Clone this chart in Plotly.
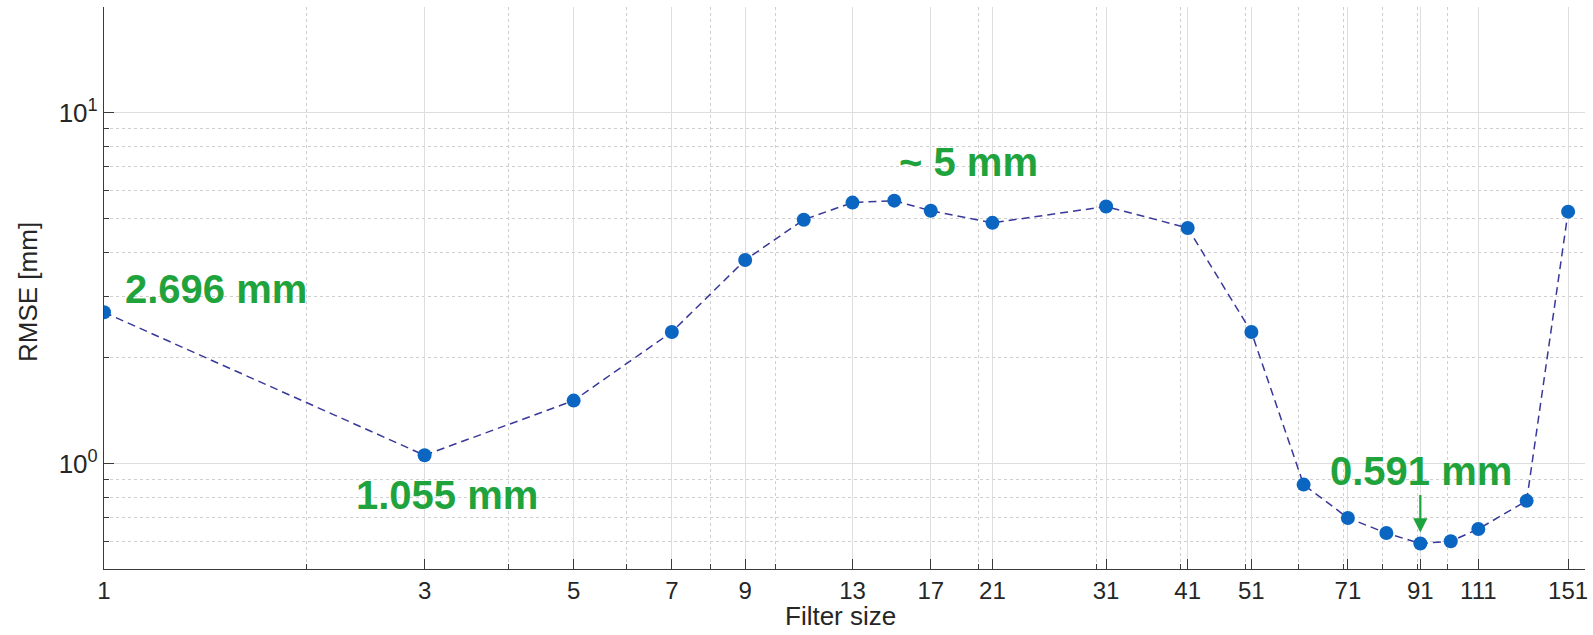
import math
import plotly.graph_objects as go

# ---- data ----
filter_size = [1, 3, 5, 7, 9, 11, 13, 15, 17, 21, 31, 41, 51, 61, 71, 81, 91, 101, 111, 131, 151]
rmse_mm = [2.696, 1.055, 1.51, 2.37, 3.80, 4.95, 5.54, 5.61, 5.25, 4.85, 5.40, 4.69,
           2.37, 0.870, 0.699, 0.633, 0.591, 0.600, 0.650, 0.782, 5.22]

x_tick_vals = [1, 3, 5, 7, 9, 13, 17, 21, 31, 41, 51, 71, 91, 111, 151]
x_minor_vals = [2, 3, 4, 5, 6, 7, 8, 9, 10, 20, 30, 40, 50, 60, 70, 80, 90, 100]
y_tick_vals = [1, 10]
y_tick_text = ["10<sup>0</sup>", "10<sup>1</sup>"]
y_minor_vals = [0.5, 0.6, 0.7, 0.8, 0.9, 2, 3, 4, 5, 6, 7, 8, 9, 20]
x_range = [1, 160]
y_range = [0.5, 20]

GREEN = "#1fa33c"
AXC = "#3a3a3a"
FONT = "Liberation Sans, Arial, Helvetica, sans-serif"

# plot area in pixels
W, H = 1593, 635
L, R, T, B = 104, 8, 7, 66
PW, PH = W - L - R, H - T - B

fig = go.Figure()
fig.add_trace(go.Scatter(
    x=filter_size, y=rmse_mm, mode="lines+markers",
    line=dict(color="#38389a", width=1.5, dash="8px,5px"),
    marker=dict(color="#0b66c2", size=14, line=dict(width=0)),
    showlegend=False, hoverinfo="x+y",
))

def ann(xv, yv, text, dx, dy):
    fig.add_annotation(x=math.log10(xv), y=math.log10(yv), xref="x", yref="y",
                       text=f"<b>{text}</b>", showarrow=False,
                       xshift=dx, yshift=dy, xanchor="center", yanchor="middle",
                       font=dict(family=FONT, size=40, color=GREEN))

i1 = filter_size.index(1)
i3 = filter_size.index(3)
i15 = filter_size.index(15)
i91 = filter_size.index(91)
ann(filter_size[i1], rmse_mm[i1], "2.696 mm", 112, 23)
ann(filter_size[i3], rmse_mm[i3], "1.055 mm", 22, -40)
ann(filter_size[i15], rmse_mm[i15], "~ 5 mm", 74, 39)
ann(filter_size[i91], rmse_mm[i91], "0.591 mm", 1, 73)

# arrow to the minimum
fig.add_annotation(x=math.log10(filter_size[i91]), y=math.log10(rmse_mm[i91]),
                   xref="x", yref="y", text="", showarrow=True,
                   ax=0, ay=-50, arrowcolor=GREEN, arrowwidth=2.2,
                   arrowhead=2, arrowsize=1.3, standoff=11)

# axis titles as annotations (placed in paper coordinates)
fig.add_annotation(x=(840 - L) / PW, y=(H - B - 616) / PH, xref="paper", yref="paper",
                   text="Filter size", showarrow=False, xanchor="center", yanchor="middle",
                   font=dict(family=FONT, size=26, color="#262626"))
fig.add_annotation(x=(28 - L) / PW, y=(H - B - 292) / PH, xref="paper", yref="paper",
                   text="RMSE [mm]", showarrow=False, xanchor="center", yanchor="middle",
                   textangle=-90, font=dict(family=FONT, size=26, color="#262626"))

axis_common = dict(
    type="log", showline=True, linecolor=AXC, linewidth=1.2, mirror=False,
    ticks="inside", ticklen=10, tickwidth=1.2, tickcolor=AXC,
    showgrid=True, gridcolor="#dedede", gridwidth=1, zeroline=False,
    automargin=False,
)

fig.update_xaxes(
    **axis_common,
    range=[math.log10(x_range[0]), math.log10(x_range[1])],
    tickmode="array", tickvals=x_tick_vals, ticktext=[str(v) for v in x_tick_vals],
    tickfont=dict(family=FONT, size=24, color="#262626"),
    minor=dict(tickmode="array", tickvals=x_minor_vals, ticks="inside", ticklen=5,
               tickwidth=1.2, tickcolor=AXC, showgrid=True, gridcolor="#cfcfcf",
               griddash="dot", gridwidth=1),
)
fig.update_yaxes(
    **axis_common,
    range=[math.log10(y_range[0]), math.log10(y_range[1])],
    tickmode="array", tickvals=y_tick_vals, ticktext=y_tick_text,
    tickfont=dict(family=FONT, size=26, color="#262626"),
    minor=dict(tickmode="array", tickvals=y_minor_vals, ticks="inside", ticklen=5,
               tickwidth=1.2, tickcolor=AXC, showgrid=True, gridcolor="#cfcfcf",
               griddash="dot", gridwidth=1),
)

fig.update_layout(
    width=W, height=H,
    margin=dict(l=L, r=R, t=T, b=B),
    paper_bgcolor="white", plot_bgcolor="white",
    font=dict(family=FONT),
)

fig.write_html("out.html", config={"displayModeBar": False},
               post_script="document.body.style.margin='0';document.body.style.overflow='hidden';")
